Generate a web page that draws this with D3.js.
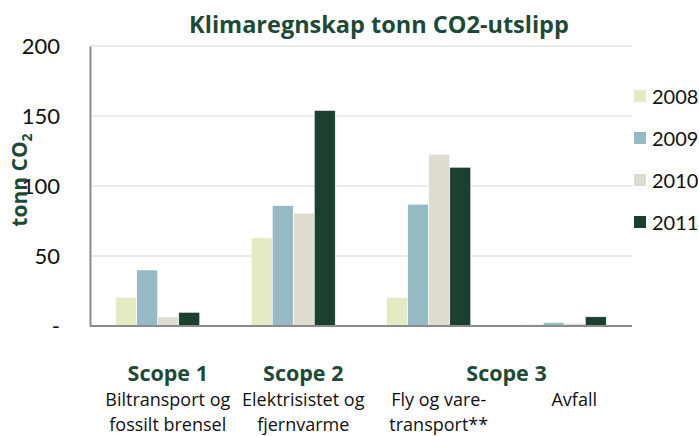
<!DOCTYPE html>
<html>
<head>
<meta charset="utf-8">
<script src="https://cdn.jsdelivr.net/npm/d3@7"></script>
<style>
  body { margin: 0; background: #fff; }
  svg { font-family: "Open Sans", sans-serif; }
</style>
</head>
<body>
<svg id="chart" width="699" height="436"></svg>
<script>
const categories = ["Biltransport", "Elektrisitet", "Fly", "Avfall"];
const years = ["2008", "2009", "2010", "2011"];
const values2008 = [20.5, 63, 20.4, 1.3];
const values2009 = [40, 86, 87, 2.5];
const values2010 = [6.5, 80.6, 122.7, 2];
const values2011 = [9.8, 154, 113.4, 6.6];
const yTicks = [0, 50, 100, 150, 200];
const labelLines = [
    ["Biltransport og", "fossilt brensel"],
    ["Elektrisistet og", "fjernvarme"],
    ["Fly og vare-", "transport**"],
    ["Avfall"]
];
const scopes = [["Scope 1", [0]], ["Scope 2", [1]], ["Scope 3", [2, 3]]];

const series = [values2008, values2009, values2010, values2011];
const colors = ["#e4eac1", "#95bac4", "#dfddd1", "#1c4030"];
const green = "#1d4a36";

const margin = { top: 46, right: 67, bottom: 110, left: 90 };
const width = 699 - margin.left - margin.right;
const height = 436 - margin.top - margin.bottom;

const svg = d3.select("#chart");
const g = svg.append("g").attr("transform", `translate(${margin.left},${margin.top})`);

const x0 = d3.scaleBand().domain(categories).range([0, width]).paddingInner(0.38).paddingOuter(0.19);
const x1 = d3.scaleBand().domain(years).range([0, x0.bandwidth()]);
const y = d3.scaleLinear().domain([0, 200]).range([height, 0]);

// gridlines
g.append("g")
    .selectAll("line")
    .data(yTicks.filter(d => d > 0))
    .enter()
    .append("line")
    .attr("x1", 0).attr("x2", width)
    .attr("y1", d => y(d)).attr("y2", d => y(d))
    .attr("stroke", "#d9d9d9").attr("stroke-width", 1);

// y axis
const yAxis = d3.axisLeft(y).tickValues(yTicks).tickSize(0).tickPadding(30)
    .tickFormat(d => d === 0 ? "-" : d);
const ya = g.append("g").call(yAxis);
ya.select(".domain").attr("stroke", "#8c8c8c").attr("stroke-width", 2);
ya.selectAll("text")
    .attr("font-size", 22)
    .attr("fill", "#111")
    .attr("font-family", "Lato, sans-serif");

// bars
const groups = g.selectAll(".grp")
    .data(categories)
    .enter()
    .append("g")
    .attr("transform", d => `translate(${x0(d)},0)`);

groups.selectAll("rect")
    .data((c, i) => years.map((yr, j) => ({ yr, j, v: series[j][i] })))
    .enter()
    .append("rect")
    .attr("x", d => x1(d.yr))
    .attr("y", d => y(d.v))
    .attr("width", x1.bandwidth())
    .attr("height", d => height - y(d.v))
    .attr("fill", d => colors[d.j])
    .attr("stroke", "#fff")
    .attr("stroke-width", 0.6);

// x axis line
g.append("line")
    .attr("x1", 0).attr("x2", width)
    .attr("y1", height).attr("y2", height)
    .attr("stroke", "#8c8c8c").attr("stroke-width", 2);

// category labels
const cx = c => x0(c) + x0.bandwidth() / 2 + 10;
labelLines.forEach((lines, i) => {
    lines.forEach((t, k) => {
        g.append("text")
            .attr("x", cx(categories[i]))
            .attr("y", height + 80 + k * 25)
            .attr("text-anchor", "middle")
            .attr("font-size", 18)
            .attr("fill", "#111")
            .text(t);
    });
});
scopes.forEach(([name, idx]) => {
    g.append("text")
        .attr("x", d3.mean(idx, i => cx(categories[i])))
        .attr("y", height + 55)
        .attr("text-anchor", "middle")
        .attr("font-size", 21.5)
        .attr("font-weight", "bold")
        .attr("fill", green)
        .text(name);
});

// title
svg.append("text")
    .attr("x", 379).attr("y", 33)
    .attr("text-anchor", "middle")
    .attr("font-size", 23.5)
    .attr("font-weight", "bold")
    .attr("fill", green)
    .text("Klimaregnskap tonn CO2-utslipp");

// y label
const yl = svg.append("text")
    .attr("transform", "translate(27,180) rotate(-90)")
    .attr("text-anchor", "middle")
    .attr("font-size", 21)
    .attr("font-weight", "bold")
    .attr("fill", green);
yl.append("tspan").text("tonn CO");
yl.append("tspan").attr("font-size", 14).attr("dy", 5).text("2");

// legend
const legend = svg.append("g").attr("transform", "translate(634,96)");
const li = legend.selectAll("g")
    .data(years)
    .enter()
    .append("g")
    .attr("transform", (d, i) => `translate(0,${i * 42})`);
li.append("rect")
    .attr("x", 0).attr("y", -6)
    .attr("width", 12).attr("height", 12)
    .attr("fill", (d, i) => colors[i]);
li.append("text")
    .attr("x", 18).attr("y", 8)
    .attr("font-size", 20)
    .attr("font-family", "Lato, sans-serif")
    .attr("fill", "#111")
    .text(d => d);
</script>
</body>
</html>
